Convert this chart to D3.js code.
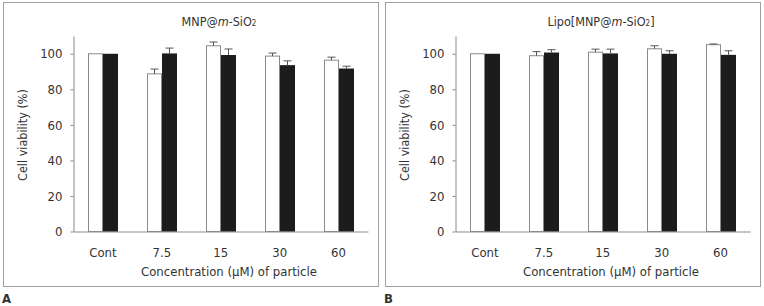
<!DOCTYPE html>
<html><head><meta charset="utf-8">
<script src="https://cdn.jsdelivr.net/npm/d3@7"></script>
<style>body{margin:0;background:#fff}svg{display:block}text{font-family:"DejaVu Sans Condensed","DejaVu Sans",sans-serif;fill:#333}</style>
</head><body>
<svg id="c" width="764" height="306"></svg>
<script>
const categories = ["Cont","7.5","15","30","60"];
const yTicks = [0,20,40,60,80,100];
// Panel A: MNP@m-SiO2
const aWhite = [100, 88.7, 104.5, 98.7, 96.4];
const aWhiteErr = [0, 2.7, 2.1, 1.7, 1.7];
const aBlack = [100, 100.2, 99.3, 93.6, 91.7];
const aBlackErr = [0, 3.0, 3.4, 2.4, 1.3];
// Panel B: Lipo[MNP@m-SiO2]
const bWhite = [100, 98.9, 100.9, 102.8, 105.1];
const bWhiteErr = [0, 2.3, 1.7, 1.7, 0.4];
const bBlack = [100, 100.7, 100.2, 100.0, 99.4];
const bBlackErr = [0, 1.6, 2.4, 1.7, 2.3];

const svg = d3.select("#c");

function panel(ox, titleParts, letter, white, whiteErr, black, blackErr){
  const g = svg.append("g").attr("transform", `translate(${ox},0)`);
  g.append("rect").attr("x",3.5).attr("y",2.5).attr("width",375).attr("height",284)
    .attr("fill","none").attr("stroke","#a0a0a0").attr("stroke-width",1);
  const x0 = 73.5, x1 = 368, yTop = 36, yBot = 231.5;
  const x = d3.scaleBand().domain(categories).range([x0, x1]);
  const y = d3.scaleLinear().domain([0,110]).range([yBot, yTop]);
  const bw = 15;
  // axes
  const ya = g.append("g").attr("transform",`translate(${x0},0)`)
    .call(d3.axisLeft(y).tickValues(yTicks).tickSize(3).tickSizeOuter(0).tickPadding(8));
  ya.select(".domain").attr("stroke","#888");
  ya.selectAll(".tick line").attr("stroke","#888");
  ya.selectAll("text").style("font-size","13px").attr("fill","#333");
  const xa = g.append("g").attr("transform",`translate(0,${yBot})`)
    .call(d3.axisBottom(x).tickSize(0).tickPadding(16));
  xa.select(".domain").attr("stroke","#888");
  xa.selectAll("text").style("font-size","13px").attr("fill","#333");
  // bars
  const cx = d => Math.round(x(d) + x.bandwidth()/2);
  g.selectAll(".w").data(categories).join("rect")
    .attr("x", d => cx(d) - bw + 0.5).attr("width", bw - 1)
    .attr("y", (d,i) => y(white[i])).attr("height",(d,i)=> yBot - y(white[i]))
    .attr("fill","#fff").attr("stroke","#8a8a8a").attr("stroke-width",1);
  g.selectAll(".b").data(categories).join("rect")
    .attr("x", d => cx(d)).attr("width", bw)
    .attr("y", (d,i) => y(black[i])).attr("height",(d,i)=> yBot - y(black[i]))
    .attr("fill","#1c1c1c");
  // error bars
  const err = (vals, errs, off) => {
    categories.forEach((d,i)=>{
      if(errs[i] <= 0) return;
      const xc = cx(d) + off;
      g.append("line").attr("x1",xc).attr("x2",xc).attr("y1",y(vals[i])).attr("y2",y(vals[i]+errs[i]))
        .attr("stroke","#555").attr("stroke-width",1);
      g.append("line").attr("x1",xc-4).attr("x2",xc+4).attr("y1",y(vals[i]+errs[i])).attr("y2",y(vals[i]+errs[i]))
        .attr("stroke","#555").attr("stroke-width",1);
    });
  };
  err(white, whiteErr, -bw/2);
  err(black, blackErr, bw/2);
  // titles
  const t = g.append("text").attr("x",219).attr("y",26).attr("text-anchor","middle").style("font-size","12.5px");
  titleParts.forEach(p => {
    const ts = t.append("tspan").text(p.t);
    if(p.i) ts.style("font-style","italic");
    if(p.sub) ts.style("font-size","8px");
  });
  g.append("text").attr("x",229).attr("y",276).attr("text-anchor","middle").style("font-size","13px")
    .text("Concentration (\u03bcM) of particle");
  g.append("text").attr("transform","translate(27,135) rotate(-90)").attr("text-anchor","middle").style("font-size","12.5px")
    .text("Cell viability (%)");
  g.append("text").attr("x",2).attr("y",303).style("font-size","13px").style("font-weight","bold").attr("fill","#222").text(letter);
}

panel(0, [{t:"MNP@"},{t:"m",i:true},{t:"-SiO"},{t:"2",sub:true}], "A", aWhite, aWhiteErr, aBlack, aBlackErr);
panel(382, [{t:"Lipo[MNP@"},{t:"m",i:true},{t:"-SiO"},{t:"2",sub:true},{t:"]"}], "B", bWhite, bWhiteErr, bBlack, bBlackErr);
</script>
</body></html>
